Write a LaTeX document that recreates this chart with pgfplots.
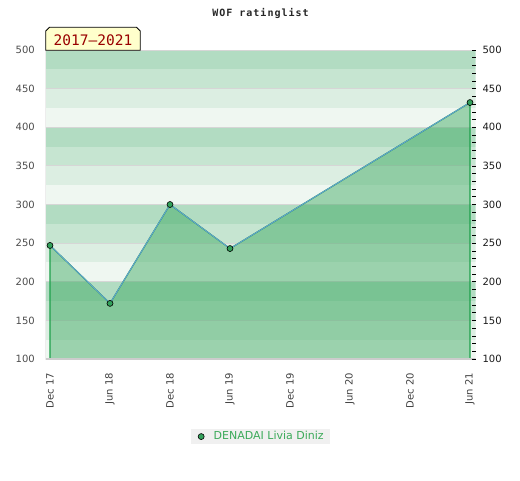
\documentclass[border=0pt]{standalone}
\usepackage{fontspec}
\setmainfont{DejaVu Sans}
\newfontfamily\monofont{DejaVu Sans Mono}
\newfontfamily\titlefont[LetterSpace=10]{DejaVu Sans Mono}
\usepackage{pgfplots}
\pgfplotsset{compat=1.18}
\usetikzlibrary{calc}
\definecolor{bandA}{HTML}{B2DCC2}
\definecolor{bandB}{HTML}{C6E5D1}
\definecolor{bandC}{HTML}{DCEEE2}
\definecolor{bandD}{HTML}{EFF7F1}
\definecolor{gridc}{HTML}{D6D6D6}
\definecolor{areac}{RGB}{50,165,88}
\definecolor{edgec}{RGB}{30,160,75}
\definecolor{linec}{RGB}{100,160,215}
\definecolor{markc}{RGB}{50,160,90}
\definecolor{legtext}{RGB}{60,170,90}
\definecolor{legbg}{HTML}{F0F0F0}
\definecolor{yearbg}{HTML}{FFFFCC}
\definecolor{yeartext}{HTML}{990000}
\definecolor{axisc}{HTML}{CCCCCC}
\begin{document}
\begin{tikzpicture}[x=1pt,y=1pt]
\begin{axis}[
  name=main,
  at={(0,0)}, anchor=north west,
  scale only axis, width=430pt, height=309pt,
  xmin=-0.43, xmax=42.57, ymin=100, ymax=500,
  axis line style={draw=none},
  xtick={0,6,12,18,24,30,36,42},
  xticklabels={Dec 17,Jun 18,Dec 18,Jun 19,Dec 19,Jun 20,Dec 20,Jun 21},
  xticklabel style={yshift=-10.4pt, rotate=90, anchor=east, font=\fontsize{10}{12}\selectfont, text=black!75},
  ytick={100,150,...,500},
  yticklabel style={font=\fontsize{10}{12}\selectfont, text=black!70, xshift=-7.4pt},
  major tick length=0pt,
  /pgf/number format/assume math mode=true,
  legend style={at={(0.5,-0.251)}, anchor=center, fill=legbg, draw=none,
    font=\fontsize{11}{13}\selectfont, text=legtext, inner xsep=4.6pt, inner ysep=1pt},
  legend image code/.code={\path[draw=none,fill=none] (0pt,-3pt) rectangle (16pt,3pt); \draw[#1] plot coordinates {(5.5pt,0pt)};},
]
% background bands
\fill[bandA] (axis cs:-0.43,475) rectangle (axis cs:42.57,500);
\fill[bandB] (axis cs:-0.43,450) rectangle (axis cs:42.57,475);
\fill[bandC] (axis cs:-0.43,425) rectangle (axis cs:42.57,450);
\fill[bandD] (axis cs:-0.43,400) rectangle (axis cs:42.57,425);
\fill[bandA] (axis cs:-0.43,375) rectangle (axis cs:42.57,400);
\fill[bandB] (axis cs:-0.43,350) rectangle (axis cs:42.57,375);
\fill[bandC] (axis cs:-0.43,325) rectangle (axis cs:42.57,350);
\fill[bandD] (axis cs:-0.43,300) rectangle (axis cs:42.57,325);
\fill[bandA] (axis cs:-0.43,275) rectangle (axis cs:42.57,300);
\fill[bandB] (axis cs:-0.43,250) rectangle (axis cs:42.57,275);
\fill[bandC] (axis cs:-0.43,225) rectangle (axis cs:42.57,250);
\fill[bandD] (axis cs:-0.43,200) rectangle (axis cs:42.57,225);
\fill[bandA] (axis cs:-0.43,175) rectangle (axis cs:42.57,200);
\fill[bandB] (axis cs:-0.43,150) rectangle (axis cs:42.57,175);
\fill[bandC] (axis cs:-0.43,125) rectangle (axis cs:42.57,150);
\fill[bandD] (axis cs:-0.43,100) rectangle (axis cs:42.57,125);
% grid lines
\draw[gridc, line width=0.9pt] (axis cs:-0.43,500) -- (axis cs:42.57,500);
\draw[gridc, line width=0.9pt] (axis cs:-0.43,450) -- (axis cs:42.57,450);
\draw[gridc, line width=0.9pt] (axis cs:-0.43,400) -- (axis cs:42.57,400);
\draw[gridc, line width=0.9pt] (axis cs:-0.43,350) -- (axis cs:42.57,350);
\draw[gridc, line width=0.9pt] (axis cs:-0.43,300) -- (axis cs:42.57,300);
\draw[gridc, line width=0.9pt] (axis cs:-0.43,250) -- (axis cs:42.57,250);
\draw[gridc, line width=0.9pt] (axis cs:-0.43,200) -- (axis cs:42.57,200);
\draw[gridc, line width=0.9pt] (axis cs:-0.43,150) -- (axis cs:42.57,150);
% area
\addplot[forget plot, draw=edgec, line width=1.2pt, fill=areac, fill opacity=0.44, draw opacity=1]
  coordinates {(0,247) (6,172) (12,300) (18,243) (42,432)} \closedcycle;
\addplot[forget plot, draw=linec, line width=0.9pt, mark=none]
  coordinates {(0,247) (6,172) (12,300) (18,243) (42,432)};
\addplot[only marks, mark=*, mark size=3pt, mark options={fill=markc, draw=black, line width=0.6pt}]
  coordinates {(0,247) (6,172) (12,300) (18,243) (42,432)};
\addlegendentry{DENADAI Livia Diniz}
% axis lines
\draw[axisc, line width=1.2pt] (rel axis cs:0,1) -- (rel axis cs:0,0) -- (rel axis cs:1,0);
\end{axis}
\begin{axis}[
  at={(0,0)}, anchor=north west,
  scale only axis, width=430pt, height=309pt,
  xmin=-0.43, xmax=42.57, ymin=100, ymax=500,
  hide x axis,
  axis y line*=right,
  y axis line style={draw=none},
  ytick={100,150,...,500},
  minor y tick num=4,
  tick align=inside,
  major tick length=3.5pt, minor tick length=3.5pt,
  every tick/.style={black, line width=0.6pt},
  yticklabel style={font=\fontsize{10}{12}\selectfont, text=black!90, xshift=3.3pt},
  /pgf/number format/assume math mode=true,
]
\addplot[draw=none, forget plot] coordinates {(0,100)};
\end{axis}
\coordinate (O) at ($(main.north west)+(-45.7,50)$);
% title
\node[font=\titlefont\bfseries\fontsize{10}{11}\selectfont, text=black!85, anchor=base] at ($(O)+(260.5,-16.7)$) {WOF ratinglist};
% year range label
\draw[fill=yearbg, draw=black, line width=0.8pt] ($(O)+(45.7,-50.3)$) -- ($(O)+(45.7,-31)$) -- ($(O)+(49.5,-27.3)$) -- ($(O)+(136.5,-27.3)$) -- ($(O)+(140.3,-31)$) -- ($(O)+(140.3,-50.3)$) -- cycle;
\node[font=\monofont\fontsize{14.5}{16}\selectfont, text=yeartext] at ($(O)+(93,-40)$) {2017–2021};
\path[use as bounding box] (O) rectangle ($(O)+(520,-480)$);
\end{tikzpicture}
\end{document}
